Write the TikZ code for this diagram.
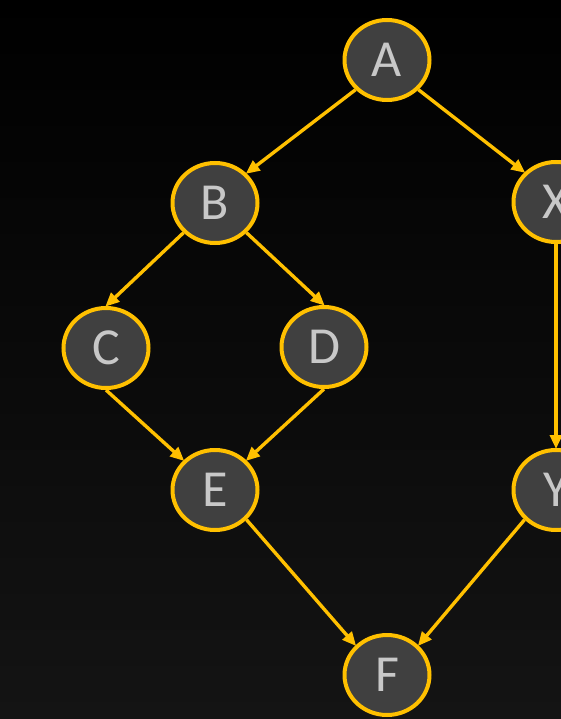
\documentclass[tikz,border=0pt]{standalone}
\usepackage{fontspec}
\setmainfont{Carlito}
\usetikzlibrary{arrows.meta,shapes.geometric}
\definecolor{gold}{RGB}{255,192,0}
\definecolor{nodefill}{RGB}{64,64,64}
\definecolor{nodetext}{RGB}{200,200,200}
\definecolor{bgbottom}{RGB}{20,20,20}
\begin{document}
\begin{tikzpicture}[x=1pt,y=-1pt,
  vtx/.style={ellipse,draw=gold,line width=4pt,fill=nodefill,minimum width=85pt,minimum height=80pt,inner sep=0pt,text=nodetext,font=\fontsize{52}{52}\selectfont},
  edge/.style={draw=gold,line width=3.4pt,-{Triangle[length=14pt,width=12pt]},shorten >=-1pt}]
\shade[top color=black,bottom color=bgbottom] (0,0) rectangle (561,719);
\useasboundingbox (0,0) rectangle (561,719);
\node[vtx] (A) at (387,60) {A};
\node[vtx] (B) at (215,203) {B};
\node[vtx] (X) at (556,202) {X};
\node[vtx] (C) at (106,348) {C};
\node[vtx] (D) at (324,347) {D};
\node[vtx] (E) at (215,490) {E};
\node[vtx] (Y) at (556,490) {Y};
\node[vtx] (F) at (387,675) {F};
\draw[edge] (A.south west) -- (B.north east);
\draw[edge] (A.south east) -- (X.north west);
\draw[edge] (B.south west) -- (C.north);
\draw[edge] (B.south east) -- (D.north);
\draw[edge] (C.south) -- (E.north west);
\draw[edge] (D.south) -- (E.north east);
\draw[edge] (X.south) -- (Y.north);
\draw[edge] (E.south east) -- (F.north west);
\draw[edge] (Y.south west) -- (F.north east);
\end{tikzpicture}
\end{document}
